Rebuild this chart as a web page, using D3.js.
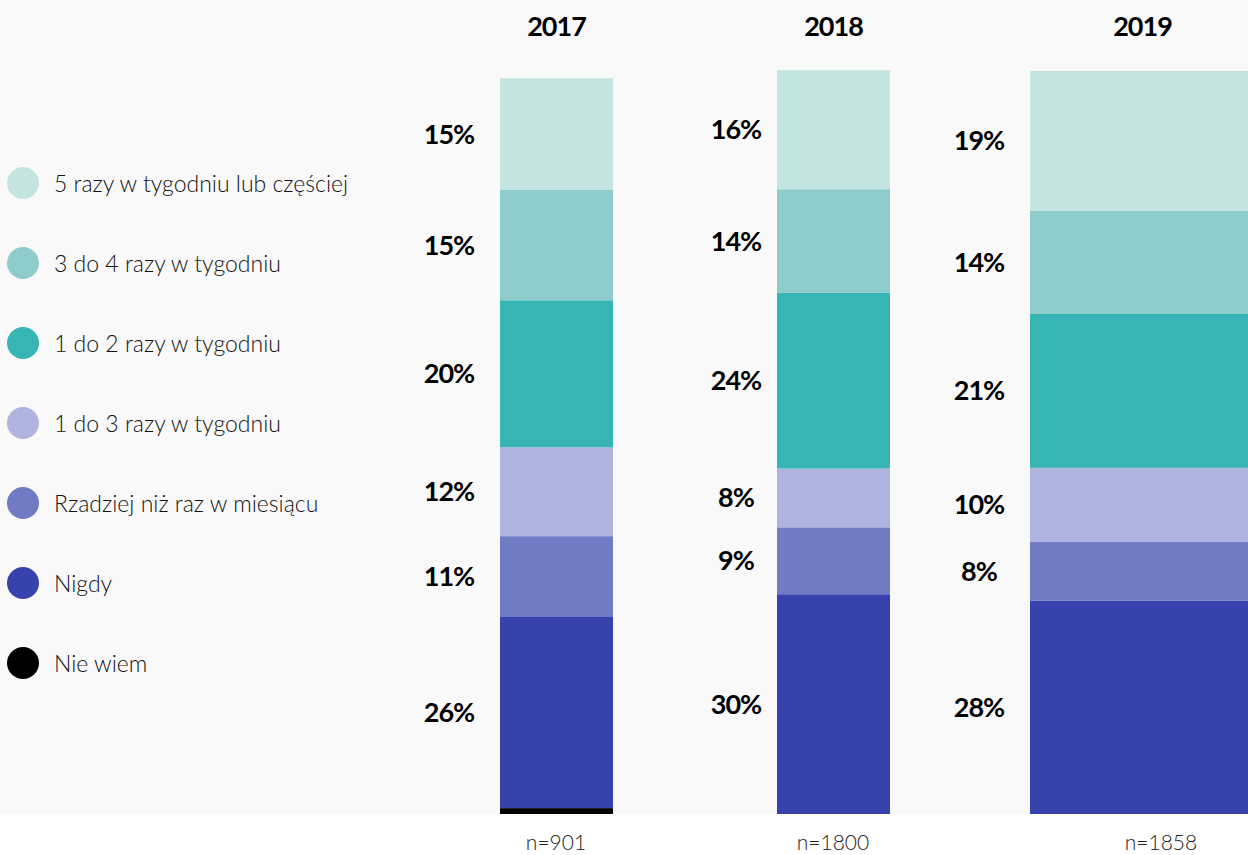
<!DOCTYPE html>
<html>
<head>
<meta charset="utf-8">
<script src="https://cdn.jsdelivr.net/npm/d3@7"></script>
<style>
  html, body { margin: 0; padding: 0; background: #ffffff; }
  svg { display: block; }
</style>
</head>
<body>
<svg id="chart" width="1248" height="855"></svg>
<script>
// ---------------- DATA ----------------
const years = ["2017", "2018", "2019"];
const sampleSizes = ["n=901", "n=1800", "n=1858"];
const categories = [
  "5 razy w tygodniu lub częściej",
  "3 do 4 razy w tygodniu",
  "1 do 2 razy w tygodniu",
  "1 do 3 razy w tygodniu",
  "Rzadziej niż raz w miesiącu",
  "Nigdy",
  "Nie wiem"
];
// values (%) per year
const v5plus    = [15.2, 16.2, 19.0];
const v3to4     = [15.0, 14.1, 14.0];
const v1to2     = [20.0, 23.9, 21.0];
const v1to3     = [12.1, 8.0, 10.1];
const vRzadziej = [10.9, 9.1, 8.0];
const vNigdy    = [26.1, 29.9, 29.0];
const vNieWiem  = [0.8, 0.0, 0.0];
// printed labels
const l5plus    = ["15%", "16%", "19%"];
const l3to4     = ["15%", "14%", "14%"];
const l1to2     = ["20%", "24%", "21%"];
const l1to3     = ["12%", "8%", "10%"];
const lRzadziej = ["11%", "9%", "8%"];
const lNigdy    = ["26%", "30%", "28%"];
const lNieWiem  = ["", "", ""];

const colors = ["#c4e4e1", "#8ecccb", "#36b5b4", "#afb3df", "#717ac4", "#3742ac", "#000000"];

// ---------------- BUILD TABLE ----------------
const seriesValues = [v5plus, v3to4, v1to2, v1to3, vRzadziej, vNigdy, vNieWiem];
const seriesLabels = [l5plus, l3to4, l1to2, l1to3, lRzadziej, lNigdy, lNieWiem];
const table = years.map((y, i) => {
  const row = { year: y };
  categories.forEach((c, k) => { row[c] = seriesValues[k][i]; });
  return row;
});
// stack from bottom: Nie wiem first, then Nigdy ... up to 5 razy
const stackKeys = categories.slice().reverse();
const stacked = d3.stack().keys(stackKeys)(table);

// ---------------- LAYOUT ----------------
const W = 1248, H = 855;
const plotBottom = 814;
const svg = d3.select("#chart");
const FONT = "Lato, 'Open Sans', sans-serif";

svg.append("rect").attr("x", 0).attr("y", 0).attr("width", W).attr("height", plotBottom).attr("fill", "#f9f9f9");

const y = d3.scaleLinear().domain([0, 100]).range([plotBottom, plotBottom - 735]);
const xBar = d3.scaleOrdinal().domain(years).range([500, 777, 1030]);
const wBar = d3.scaleOrdinal().domain(years).range([113, 113, 225]);
const labelOffset = d3.scaleOrdinal().domain(years).range([-51, -41, -51]);
const nCenterOffset = d3.scaleOrdinal().domain(years).range([56, 56, 131]);
const color = d3.scaleOrdinal().domain(categories).range(colors);

// bars
const layers = svg.append("g").selectAll("g").data(stacked).join("g")
  .attr("fill", d => color(d.key));
layers.selectAll("rect").data(d => d).join("rect")
  .attr("x", d => xBar(d.data.year))
  .attr("width", d => wBar(d.data.year))
  .attr("y", d => y(d[1]))
  .attr("height", d => Math.max(0, y(d[0]) - y(d[1])));

// value labels
stacked.forEach(layer => {
  const k = categories.indexOf(layer.key);
  layer.forEach((d, i) => {
    const txt = seriesLabels[k][i];
    if (!txt) return;
    const yr = d.data.year;
    svg.append("text")
      .attr("x", xBar(yr) + labelOffset(yr))
      .attr("y", (y(d[0]) + y(d[1])) / 2 + 9.5)
      .attr("text-anchor", "middle")
      .attr("font-family", FONT)
      .attr("font-weight", 700)
      .attr("font-size", 27)
      .attr("letter-spacing", -1)
      .attr("fill", "#000")
      .text(txt);
  });
});

// year titles
svg.append("g").selectAll("text").data(years).join("text")
  .attr("x", d => xBar(d) + wBar(d) / 2)
  .attr("y", 36)
  .attr("text-anchor", "middle")
  .attr("font-family", FONT)
  .attr("font-weight", 700)
  .attr("font-size", 27)
  .attr("letter-spacing", -1)
  .attr("fill", "#000")
  .text(d => d);

// sample sizes
svg.append("g").selectAll("text").data(years).join("text")
  .attr("x", d => xBar(d) + nCenterOffset(d))
  .attr("y", 850)
  .attr("text-anchor", "middle")
  .attr("font-family", FONT)
  .attr("font-weight", 300)
  .attr("font-size", 21)
  .attr("fill", "#222")
  .text((d, i) => sampleSizes[i]);

// legend
const legend = svg.append("g").selectAll("g").data(categories).join("g")
  .attr("transform", (d, i) => `translate(23, ${183 + i * 80})`);
legend.append("circle").attr("r", 16).attr("fill", d => color(d));
legend.append("text")
  .attr("x", 31)
  .attr("y", 9)
  .attr("font-family", FONT)
  .attr("font-weight", 300)
  .attr("font-size", 23)
  .attr("fill", "#111")
  .text(d => d);
</script>
</body>
</html>
